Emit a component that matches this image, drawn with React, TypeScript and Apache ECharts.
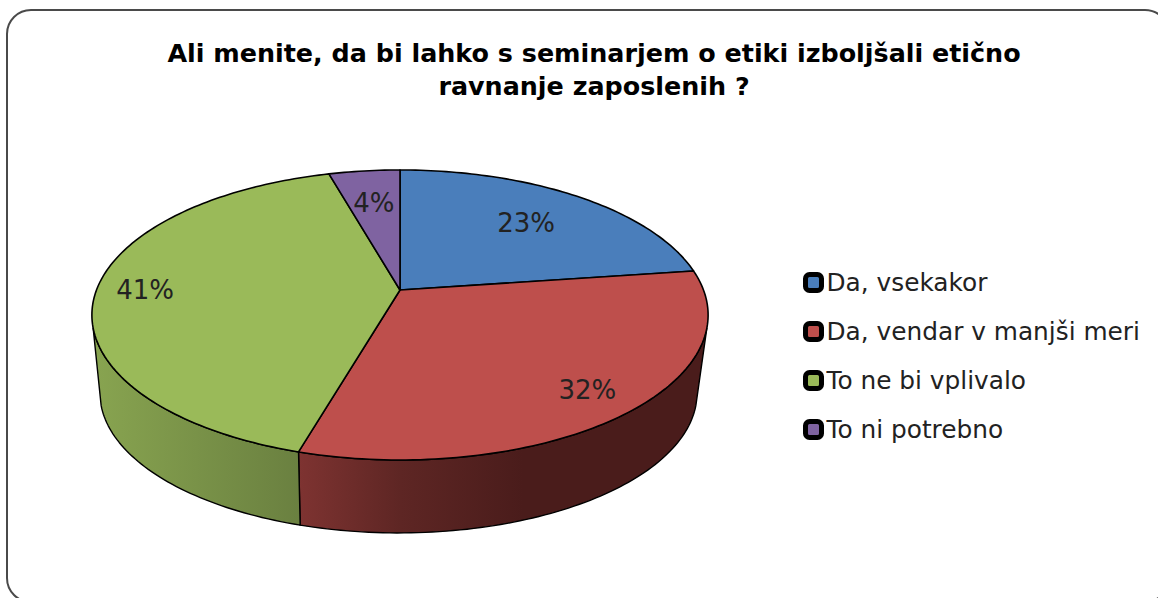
import React, { useEffect, useRef } from "react";
import * as echarts from "echarts";

const titleText = "Ali menite, da bi lahko s seminarjem o etiki izboljšali etično\nravnanje zaposlenih ?";
const categories = ["Da, vsekakor", "Da, vendar v manjši meri", "To ne bi vplivalo", "To ni potrebno"];
const shares = [22.8, 31.7, 41.1, 4.4];
const topColors = ["#4A7EBB", "#BE4F4C", "#9ABA59", "#7F63A1"];
const labelRadii = [0.69, 0.84, 0.84, 0.7];
const wallStops = [
  [[0, "#3A5F8C"], [1, "#2A4566"]],
  [[0, "#7E3331"], [0.25, "#5E2624"], [0.55, "#4A1C1B"], [1, "#4A1C1B"]],
  [[0, "#88A450"], [1, "#6A8040"]],
  [[0, "#5F4A78"], [1, "#463757"]],
];

const FONT = "'DejaVu Sans'";
const CX = 400, CY = 290, A = 303.5, B = 140.7, K = 0.1724;
const WALL_FROM = (105 / 180) * Math.PI, WALL_TO = (255 / 180) * Math.PI;
const total = shares.reduce((s, v) => s + v, 0);
const starts = shares.map((_, i) => shares.slice(0, i).reduce((s, v) => s + v, 0));

function project(theta: number, r: number): number[] {
  const u = r * Math.sin(theta), v = r * Math.cos(theta);
  const d = 1 + K * v;
  return [CX + (A * u) / d, CY - (B * v) / d];
}
function lower(p: number[]): number[] {
  return [398.5 + (p[0] - 400) * 0.969, 393 + (p[1] - 315) * 0.965];
}
function arcBetween(a0: number, a1: number): number[][] {
  const n = Math.max(4, Math.ceil((a1 - a0) / 0.02));
  const pts: number[][] = [];
  for (let j = 0; j <= n; j++) pts.push(project(a0 + ((a1 - a0) * j) / n, 1));
  return pts;
}
function sliceStart(i: number) {
  return (starts[i] / total) * Math.PI * 2;
}
function sliceEnd(i: number) {
  return ((starts[i] + shares[i]) / total) * Math.PI * 2;
}

export default function App() {
  const ref = useRef<HTMLDivElement>(null);
  useEffect(() => {
    document.body.style.margin = "0";
    document.body.style.overflow = "hidden";
    const chart = echarts.init(ref.current!, undefined, { renderer: "svg" });
    const wallSeries: any = {
      type: "custom",
      coordinateSystem: "none",
      silent: true,
      z: 2,
      data: shares,
      renderItem: (params: any) => {
        const i = params.dataIndex;
        const a0 = Math.max(sliceStart(i), WALL_FROM);
        const a1 = Math.min(sliceEnd(i), WALL_TO);
        if (a1 <= a0) return null;
        const top = arcBetween(a0, a1);
        const bottom = top.map(lower).reverse();
        return {
          type: "polygon",
          shape: { points: [...top, ...bottom] },
          style: {
            fill: new echarts.graphic.LinearGradient(
              0, 0, 1, 0,
              wallStops[i].map((s: any) => ({ offset: s[0], color: s[1] }))
            ),
            stroke: "#000",
            lineWidth: 1.4,
            lineJoin: "round",
          },
        };
      },
    };
    const sliceSeries: any[] = categories.map((name, i) => ({
      name,
      type: "custom",
      coordinateSystem: "none",
      silent: true,
      z: 3,
      itemStyle: { color: topColors[i] },
      data: [shares[i]],
      renderItem: () => {
        const mid = (sliceStart(i) + sliceEnd(i)) / 2;
        const lp = project(mid, labelRadii[i]);
        return {
          type: "group",
          children: [
            {
              type: "polygon",
              shape: { points: [[CX, CY], ...arcBetween(sliceStart(i), sliceEnd(i))] },
              style: { fill: topColors[i], stroke: "#000", lineWidth: 1.6, lineJoin: "round" },
            },
            {
              type: "text",
              x: lp[0],
              y: lp[1],
              style: {
                text: Math.round(shares[i]) + "%",
                fontFamily: FONT,
                fontSize: 26,
                fill: "#222",
                align: "center",
                verticalAlign: "middle",
              },
            },
          ],
        };
      },
    }));
    chart.setOption({
      animation: false,
      backgroundColor: "#fff",
      title: {
        text: titleText,
        left: 589,
        top: 31,
        padding: 5,
        textAlign: "center",
        textStyle: { fontFamily: FONT, fontSize: 25.4, fontWeight: "bold", color: "#000", lineHeight: 33 },
      },
      legend: {
        orient: "vertical",
        left: 803,
        top: 270,
        padding: 0,
        icon: "roundRect",
        itemWidth: 16,
        itemHeight: 16,
        itemGap: 24,
        selectedMode: false,
        data: categories.map((name, i) => ({
          name,
          itemStyle: { color: topColors[i], borderColor: "#000", borderWidth: 5 },
        })),
        textStyle: { fontFamily: FONT, fontSize: 24.8, color: "#222" },
      },
      graphic: [
        {
          type: "rect",
          z: -1,
          shape: { x: 7, y: 10, width: 1162, height: 592, r: 24 },
          style: { fill: "#fff", stroke: "#4a4a4a", lineWidth: 2 },
        },
      ],
      series: [wallSeries, ...sliceSeries],
    });
    return () => chart.dispose();
  }, []);
  return <div ref={ref} style={{ position: "fixed", left: 0, top: 0, width: 1158, height: 598 }} />;
}
